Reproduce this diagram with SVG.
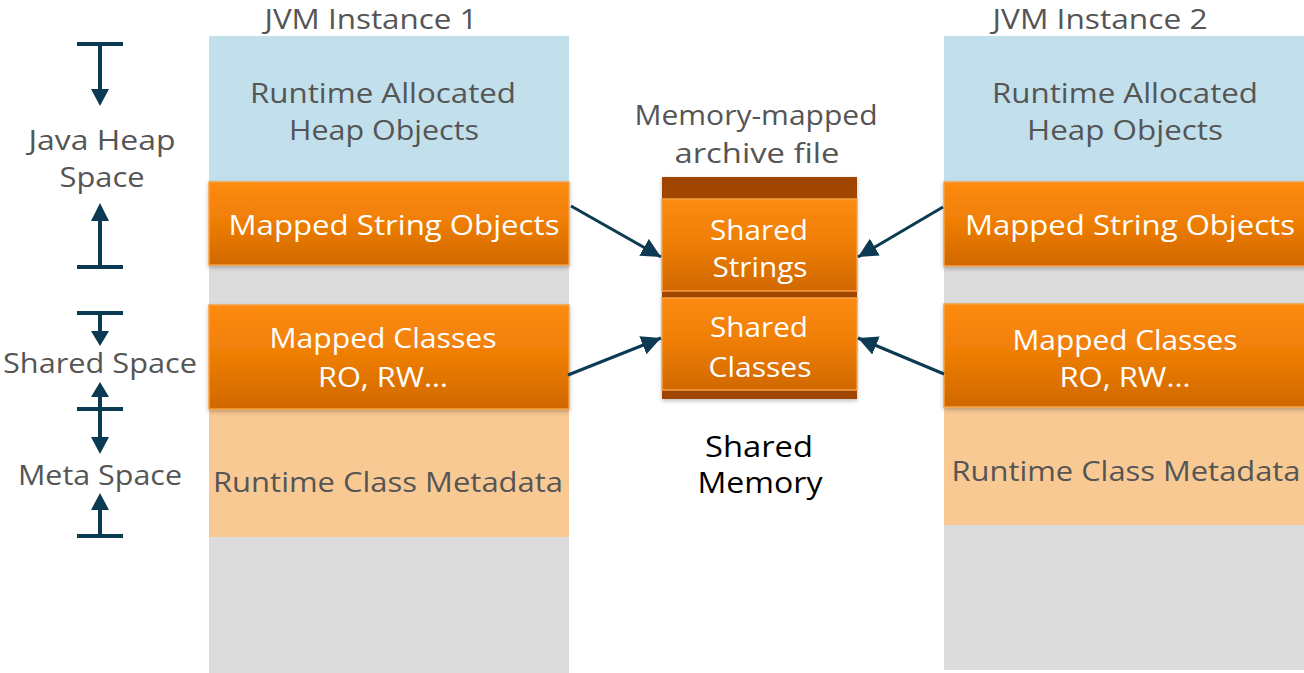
<svg xmlns="http://www.w3.org/2000/svg" width="1304" height="673" viewBox="0 0 1304 673">
<defs>
  <linearGradient id="og" x1="0" y1="0" x2="0" y2="1">
    <stop offset="0" stop-color="#FD8B12"/>
    <stop offset="0.45" stop-color="#F07F06"/>
    <stop offset="1" stop-color="#D06800"/>
  </linearGradient>
  <filter id="sh" x="-5%" y="-10%" width="110%" height="130%">
    <feDropShadow dx="0" dy="2" stdDeviation="2" flood-color="#000" flood-opacity="0.25"/>
  </filter>
  <marker id="ah" viewBox="0 0 10 10" refX="10" refY="5" markerWidth="6.5" markerHeight="6.5" markerUnits="strokeWidth" orient="auto">
    <path d="M0,0 L10,5 L0,10 z" fill="#0B3A52"/>
  </marker>
  <style>
    text { font-family: "Open Sans", "Noto Sans", sans-serif; }
    .g { fill: #555555; font-size: 28px; }
    .w { fill: #FFFFFF; font-size: 28px; }
    .k { fill: #000000; font-size: 29px; }
    .blue { fill: #C2E0EC; }
    .gray { fill: #DCDCDC; }
    .peach { fill: #F9C993; }
    .orange { fill: url(#og); stroke: #F8A040; stroke-width: 1.5; }
    .dark { fill: #A04400; }
    .conn { stroke: #0B3A52; stroke-width: 3; fill: none; }
    .bk { stroke: #0B3A52; stroke-width: 4; fill: none; }
    .hd { fill: #0B3A52; }
  </style>
</defs>
<rect width="1304" height="673" fill="#FFFFFF"/>

<!-- Left brackets -->
<g id="java-heap-space">
  <line class="bk" x1="77" y1="44" x2="123" y2="44"/>
  <line class="bk" x1="100" y1="44" x2="100" y2="90"/>
  <path class="hd" d="M91,89 L109,89 L100,106 z"/>
  <line class="bk" x1="77" y1="267" x2="123" y2="267"/>
  <line class="bk" x1="100" y1="267" x2="100" y2="220"/>
  <path class="hd" d="M91,221 L109,221 L100,203 z"/>
  <text class="g" x="102" y="150" text-anchor="middle" textLength="147" lengthAdjust="spacingAndGlyphs">Java Heap</text>
  <text class="g" x="102" y="187" text-anchor="middle" textLength="85" lengthAdjust="spacingAndGlyphs">Space</text>
</g>
<g id="shared-space">
  <line class="bk" x1="77" y1="313" x2="123" y2="313"/>
  <line class="bk" x1="100" y1="313" x2="100" y2="333"/>
  <path class="hd" d="M91,331 L109,331 L100,346 z"/>
  <line class="bk" x1="77" y1="409" x2="123" y2="409"/>
  <line class="bk" x1="100" y1="409" x2="100" y2="395"/>
  <path class="hd" d="M91,397 L109,397 L100,382 z"/>
  <text class="g" x="100" y="373" text-anchor="middle" textLength="194" lengthAdjust="spacingAndGlyphs">Shared Space</text>
</g>
<g id="meta-space">
  <line class="bk" x1="100" y1="409" x2="100" y2="438"/>
  <path class="hd" d="M91,437 L109,437 L100,454 z"/>
  <line class="bk" x1="77" y1="536" x2="123" y2="536"/>
  <line class="bk" x1="100" y1="536" x2="100" y2="509"/>
  <path class="hd" d="M91,510 L109,510 L100,493 z"/>
  <text class="g" x="100" y="485" text-anchor="middle" textLength="164" lengthAdjust="spacingAndGlyphs">Meta Space</text>
</g>

<!-- JVM Instance 1 -->
<g id="jvm1">
  <text class="g" x="371" y="29" text-anchor="middle" textLength="213" lengthAdjust="spacingAndGlyphs">JVM Instance 1</text>
  <rect class="gray" x="209" y="36" width="360" height="637"/>
  <rect class="blue" x="209" y="36" width="360" height="146"/>
  <text class="g" x="383" y="103" text-anchor="middle" textLength="266" lengthAdjust="spacingAndGlyphs">Runtime Allocated</text>
  <text class="g" x="384" y="140" text-anchor="middle" textLength="190" lengthAdjust="spacingAndGlyphs">Heap Objects</text>
  <rect class="peach" x="209" y="409" width="360" height="128"/>
  <text class="g" x="388" y="492" text-anchor="middle" textLength="350" lengthAdjust="spacingAndGlyphs">Runtime Class Metadata</text>
</g>
<g id="jvm1-strings">
  <rect class="orange" x="209" y="182" width="360" height="83" filter="url(#sh)"/>
  <text class="w" x="394" y="235" text-anchor="middle" textLength="331" lengthAdjust="spacingAndGlyphs">Mapped String Objects</text>
</g>
<g id="jvm1-classes">
  <rect class="orange" x="209" y="305" width="360" height="104" filter="url(#sh)"/>
  <text class="w" x="383" y="348" text-anchor="middle" textLength="227" lengthAdjust="spacingAndGlyphs">Mapped Classes</text>
  <text class="w" x="383" y="387" text-anchor="middle" textLength="130" lengthAdjust="spacingAndGlyphs">RO, RW…</text>
</g>

<!-- Archive -->
<g id="archive">
  <text class="g" x="756" y="125" text-anchor="middle" textLength="243" lengthAdjust="spacingAndGlyphs">Memory-mapped</text>
  <text class="g" x="757" y="163" text-anchor="middle" textLength="165" lengthAdjust="spacingAndGlyphs">archive file</text>
  <rect class="dark" x="662" y="177" width="195" height="222" filter="url(#sh)"/>
</g>
<g id="shared-strings">
  <rect class="orange" x="662" y="199" width="195" height="92"/>
  <text class="w" x="759" y="240" text-anchor="middle" textLength="98" lengthAdjust="spacingAndGlyphs">Shared</text>
  <text class="w" x="760" y="277" text-anchor="middle" textLength="95" lengthAdjust="spacingAndGlyphs">Strings</text>
</g>
<g id="shared-classes">
  <rect class="orange" x="662" y="298" width="195" height="92"/>
  <text class="w" x="759" y="337" text-anchor="middle" textLength="98" lengthAdjust="spacingAndGlyphs">Shared</text>
  <text class="w" x="760" y="377" text-anchor="middle" textLength="103" lengthAdjust="spacingAndGlyphs">Classes</text>
</g>
<g id="shared-memory">
  <text class="k" x="759" y="457" text-anchor="middle" textLength="108" lengthAdjust="spacingAndGlyphs">Shared</text>
  <text class="k" x="760" y="493" text-anchor="middle" textLength="125" lengthAdjust="spacingAndGlyphs">Memory</text>
</g>

<!-- JVM Instance 2 -->
<g id="jvm2">
  <text class="g" x="1100" y="29" text-anchor="middle" textLength="215" lengthAdjust="spacingAndGlyphs">JVM Instance 2</text>
  <rect class="gray" x="944" y="36" width="360" height="634"/>
  <rect class="blue" x="944" y="36" width="360" height="146"/>
  <text class="g" x="1125" y="103" text-anchor="middle" textLength="266" lengthAdjust="spacingAndGlyphs">Runtime Allocated</text>
  <text class="g" x="1125" y="140" text-anchor="middle" textLength="196" lengthAdjust="spacingAndGlyphs">Heap Objects</text>
  <rect class="peach" x="944" y="407" width="360" height="118"/>
  <text class="g" x="1126" y="481" text-anchor="middle" textLength="349" lengthAdjust="spacingAndGlyphs">Runtime Class Metadata</text>
</g>
<g id="jvm2-strings">
  <rect class="orange" x="944" y="182" width="362" height="84" filter="url(#sh)"/>
  <text class="w" x="1130" y="235" text-anchor="middle" textLength="330" lengthAdjust="spacingAndGlyphs">Mapped String Objects</text>
</g>
<g id="jvm2-classes">
  <rect class="orange" x="944" y="304" width="362" height="103" filter="url(#sh)"/>
  <text class="w" x="1125" y="350" text-anchor="middle" textLength="225" lengthAdjust="spacingAndGlyphs">Mapped Classes</text>
  <text class="w" x="1125" y="387" text-anchor="middle" textLength="131" lengthAdjust="spacingAndGlyphs">RO, RW…</text>
</g>

<!-- Connectors -->
<g id="connectors">
  <line class="conn" x1="571" y1="206" x2="661" y2="257" marker-end="url(#ah)"/>
  <line class="conn" x1="568" y1="375" x2="661" y2="338" marker-end="url(#ah)"/>
  <line class="conn" x1="943" y1="207" x2="858" y2="257" marker-end="url(#ah)"/>
  <line class="conn" x1="944" y1="374" x2="858" y2="338" marker-end="url(#ah)"/>
</g>
</svg>
